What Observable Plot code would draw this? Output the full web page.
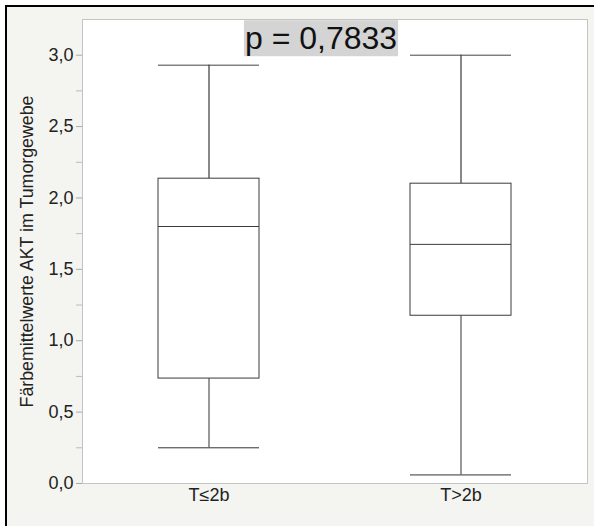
<!DOCTYPE html>
<html>
<head>
<meta charset="utf-8">
<script src="https://cdn.jsdelivr.net/npm/d3@7"></script>
<script src="https://cdn.jsdelivr.net/npm/@observablehq/plot@0.6"></script>
<style>
  html, body { margin: 0; padding: 0; background: #ffffff; width: 594px; height: 526px; overflow: hidden; }
  #bg { position: absolute; left: 5px; top: 5px; right: 0; bottom: 0; background: #f4f4f0; border-left: 2px solid #000; border-top: 2px solid #000; }
  #chart { position: absolute; left: 0; top: 0; }
</style>
</head>
<body>
<div id="bg"></div>
<div id="chart"></div>
<script>
const categories = ["T≤2b", "T>2b"];
const lowWhisker = [0.25, 0.06];
const q1 = [0.735, 1.175];
const median = [1.80, 1.675];
const q3 = [2.135, 2.10];
const highWhisker = [2.93, 3.00];
const majorTicks = [0, 0.5, 1.0, 1.5, 2.0, 2.5, 3.0];
const minorTicks = [0.25, 0.75, 1.25, 1.75, 2.25, 2.75];
const yLabel = "Färbemittelwerte AKT im Tumorgewebe";
const pText = "p = 0,7833";

const data = categories.map((c, i) => ({
  cat: c, lo: lowWhisker[i], q1: q1[i], med: median[i], q3: q3[i], hi: highWhisker[i]
}));

const fmt = d => d.toFixed(1).replace(".", ",");
const boxStroke = "#3a3a3a";

const plot = Plot.plot({
  width: 594,
  height: 526,
  marginLeft: 82,
  marginRight: 7,
  marginTop: 19,
  marginBottom: 43,
  style: { fontFamily: "'Liberation Sans', Arial, sans-serif", fontSize: "18px", background: "transparent", color: "#222" },
  x: { domain: categories, paddingInner: 0.6, paddingOuter: 0.3, label: null },
  y: { domain: [0, 3.25], label: null },
  marks: [
    Plot.frame({ fill: "white", stroke: "#c4c4c4" }),
    Plot.axisY({ ticks: majorTicks, tickFormat: fmt, tickSize: 6, tickPadding: 3, fontSize: 18, stroke: "#aaa", fill: "#222", label: null }),
    Plot.axisY({ ticks: minorTicks, tickFormat: () => "", tickSize: 6, stroke: "#bbb", label: null }),
    Plot.axisY({ ticks: [], label: yLabel, labelAnchor: "center", labelArrow: "none", labelOffset: 62, fontSize: 17.8, fill: "#222" }),
    Plot.axisX({ tickSize: 0, tickPadding: 5, fontSize: 18, fill: "#222", label: null }),
    Plot.ruleX(data, { x: "cat", y1: "q3", y2: "hi", stroke: "#111", strokeWidth: 1 }),
    Plot.ruleX(data, { x: "cat", y1: "lo", y2: "q1", stroke: "#333", strokeWidth: 1 }),
    Plot.barY(data, { x: "cat", y1: "q1", y2: "q3", fill: "white", stroke: boxStroke, strokeWidth: 1 }),
    Plot.tickY(data, { x: "cat", y: "med", stroke: boxStroke, strokeWidth: 1 }),
    Plot.tickY(data, { x: "cat", y: "hi", stroke: "#444", strokeWidth: 1 }),
    Plot.tickY(data, { x: "cat", y: "lo", stroke: "#333", strokeWidth: 1 }),
    Plot.text([pText], { text: d => d, frameAnchor: "top", lineAnchor: "top", dx: -14, dy: 7, fontSize: 32, fill: "#111", className: "pval" })
  ]
});

document.getElementById("chart").appendChild(plot);

// grey background behind the p-value label
const t = plot.querySelector(".pval text");
if (t) {
  const bb = t.getBBox();
  const rect = document.createElementNS("http://www.w3.org/2000/svg", "rect");
  rect.setAttribute("x", bb.x - 1);
  rect.setAttribute("y", bb.y);
  rect.setAttribute("width", bb.width + 2);
  rect.setAttribute("height", bb.height);
  rect.setAttribute("fill", "#d4d4d4");
  const g = t.parentNode;
  const tr = t.getAttribute("transform");
  if (tr) rect.setAttribute("transform", tr);
  g.insertBefore(rect, t);
}
</script>
</body>
</html>
